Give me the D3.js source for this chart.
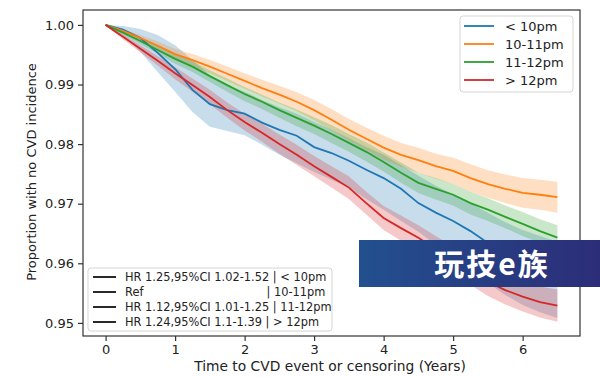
<!DOCTYPE html>
<html>
<head>
<meta charset="utf-8">
<script src="https://cdn.jsdelivr.net/npm/d3@7"></script>
<style>
    body { margin: 0; background: #fff; }
    text { font-family: "DejaVu Sans", sans-serif; }
</style>
</head>
<body>
<div id="chart"></div>
<script>
// follow-up time (years)
const years = [0, 0.25, 0.5, 0.75, 1, 1.25, 1.5, 1.75, 2, 2.25, 2.5, 2.75, 3, 3.25, 3.5,
    3.75, 4, 4.25, 4.5, 4.75, 5, 5.25, 5.5, 5.75, 6, 6.25, 6.5];

const groups = ["< 10pm", "10-11pm", "11-12pm", "> 12pm"];

// survival estimates + 95% CI per bedtime group
const before10 = [1.0000, 0.9992, 0.9978, 0.9953, 0.9926, 0.9891, 0.9867, 0.9857, 0.9851, 0.9836, 0.9824, 0.9814, 0.9795, 0.9785,
    0.9772, 0.9757, 0.9743, 0.9725, 0.9701, 0.9685, 0.9671, 0.9654, 0.9634, 0.9619, 0.9606, 0.9592, 0.9582];
const before10Hi = [1.0000, 0.9998, 0.9993, 0.9983, 0.9966, 0.9941, 0.9916, 0.9899, 0.9888, 0.9874, 0.9862, 0.9851, 0.9837, 0.9824,
    0.9810, 0.9795, 0.9782, 0.9765, 0.9747, 0.9730, 0.9716, 0.9701, 0.9685, 0.9669, 0.9656, 0.9646, 0.9636];
const before10Lo = [1.0000, 0.9982, 0.9955, 0.9921, 0.9888, 0.9854, 0.9829, 0.9822, 0.9815, 0.9799, 0.9782, 0.9768, 0.9753, 0.9740,
    0.9727, 0.9708, 0.9690, 0.9671, 0.9653, 0.9631, 0.9609, 0.9589, 0.9567, 0.9547, 0.9530, 0.9518, 0.9508];

const tenTo11 = [1.0000, 0.9990, 0.9978, 0.9965, 0.9951, 0.9941, 0.9930, 0.9918, 0.9906, 0.9894, 0.9883, 0.9871, 0.9857, 0.9841,
    0.9824, 0.9809, 0.9794, 0.9782, 0.9773, 0.9763, 0.9755, 0.9743, 0.9733, 0.9725, 0.9718, 0.9715, 0.9711];
const tenTo11Hi = [1.0000, 0.9993, 0.9983, 0.9972, 0.9960, 0.9951, 0.9941, 0.9930, 0.9919, 0.9908, 0.9898, 0.9887, 0.9874, 0.9859,
    0.9842, 0.9828, 0.9814, 0.9802, 0.9794, 0.9784, 0.9777, 0.9766, 0.9756, 0.9749, 0.9743, 0.9740, 0.9737];
const tenTo11Lo = [1.0000, 0.9987, 0.9973, 0.9958, 0.9942, 0.9931, 0.9919, 0.9906, 0.9893, 0.9880, 0.9868, 0.9855, 0.9840, 0.9823,
    0.9806, 0.9790, 0.9774, 0.9762, 0.9752, 0.9742, 0.9733, 0.9720, 0.9710, 0.9701, 0.9693, 0.9690, 0.9685];

const elevenTo12 = [1.0000, 0.9987, 0.9973, 0.9958, 0.9943, 0.9930, 0.9914, 0.9899, 0.9884, 0.9871, 0.9857, 0.9844, 0.9831, 0.9817,
    0.9802, 0.9787, 0.9770, 0.9752, 0.9735, 0.9725, 0.9715, 0.9701, 0.9690, 0.9678, 0.9666, 0.9654, 0.9643];
const elevenTo12Hi = [1.0000, 0.9990, 0.9978, 0.9964, 0.9951, 0.9939, 0.9924, 0.9910, 0.9896, 0.9883, 0.9870, 0.9858, 0.9845, 0.9832,
    0.9817, 0.9803, 0.9786, 0.9769, 0.9752, 0.9743, 0.9733, 0.9720, 0.9709, 0.9697, 0.9686, 0.9674, 0.9664];
const elevenTo12Lo = [1.0000, 0.9984, 0.9968, 0.9952, 0.9935, 0.9921, 0.9904, 0.9888, 0.9872, 0.9859, 0.9844, 0.9830, 0.9817, 0.9802,
    0.9787, 0.9771, 0.9754, 0.9735, 0.9718, 0.9707, 0.9697, 0.9682, 0.9671, 0.9659, 0.9646, 0.9634, 0.9622];

const after12 = [1.0000, 0.9980, 0.9960, 0.9940, 0.9919, 0.9899, 0.9879, 0.9857, 0.9837, 0.9819, 0.9800, 0.9782, 0.9763, 0.9745,
    0.9727, 0.9701, 0.9676, 0.9659, 0.9643, 0.9624, 0.9606, 0.9587, 0.9569, 0.9555, 0.9544, 0.9535, 0.9529];
const after12Hi = [1.0000, 0.9984, 0.9966, 0.9948, 0.9929, 0.9910, 0.9891, 0.9870, 0.9851, 0.9834, 0.9816, 0.9799, 0.9780, 0.9763,
    0.9746, 0.9720, 0.9696, 0.9680, 0.9664, 0.9646, 0.9628, 0.9610, 0.9593, 0.9579, 0.9569, 0.9561, 0.9556];
const after12Lo = [1.0000, 0.9976, 0.9954, 0.9932, 0.9909, 0.9888, 0.9867, 0.9844, 0.9823, 0.9804, 0.9784, 0.9765, 0.9746, 0.9727,
    0.9708, 0.9682, 0.9656, 0.9638, 0.9622, 0.9602, 0.9584, 0.9564, 0.9545, 0.9531, 0.9519, 0.9509, 0.9502];

const hrLabels = [
    "HR 1.25,95%CI 1.02-1.52 | < 10pm",
    "Ref                                  | 10-11pm",
    "HR 1.12,95%CI 1.01-1.25 | 11-12pm",
    "HR 1.24,95%CI 1.1-1.39 | > 12pm"
];

const xTicks = [0, 1, 2, 3, 4, 5, 6];
const yTicks = [0.95, 0.96, 0.97, 0.98, 0.99, 1.00];

const colors = ["#1f77b4", "#ff7f0e", "#2ca02c", "#d62728"];

const series = [
    {name: groups[0], est: before10, lo: before10Lo, hi: before10Hi},
    {name: groups[1], est: tenTo11, lo: tenTo11Lo, hi: tenTo11Hi},
    {name: groups[2], est: elevenTo12, lo: elevenTo12Lo, hi: elevenTo12Hi},
    {name: groups[3], est: after12, lo: after12Lo, hi: after12Hi}
];

const width = 600, height = 377;
const plot = {left: 83, top: 10, right: 580, bottom: 336};

const svg = d3.select("#chart").append("svg")
    .attr("width", width)
    .attr("height", height);

const x = d3.scaleLinear().domain([-0.325, 6.825]).range([plot.left, plot.right]);
const y = d3.scaleLinear().domain([0.9478, 1.0025]).range([plot.bottom, plot.top]);

svg.append("clipPath").attr("id", "clip")
    .append("rect")
    .attr("x", plot.left).attr("y", plot.top)
    .attr("width", plot.right - plot.left)
    .attr("height", plot.bottom - plot.top);

const body = svg.append("g").attr("clip-path", "url(#clip)");

// CI bands first, lines on top (matplotlib zorder)
series.forEach((s, i) => {
    const area = d3.area()
        .x((d, j) => x(years[j]))
        .y0((d, j) => y(s.lo[j]))
        .y1((d, j) => y(s.hi[j]));
    body.append("path")
        .datum(s.est)
        .attr("d", area)
        .attr("fill", colors[i])
        .attr("fill-opacity", 0.25);
});

series.forEach((s, i) => {
    const line = d3.line()
        .x((d, j) => x(years[j]))
        .y(d => y(d));
    body.append("path")
        .datum(s.est)
        .attr("d", line)
        .attr("fill", "none")
        .attr("stroke", colors[i])
        .attr("stroke-width", 1.8);
});

// axes
const xAxis = svg.append("g")
    .attr("transform", `translate(0,${plot.bottom})`)
    .call(d3.axisBottom(x).tickValues(xTicks).tickFormat(d3.format("d")).tickSize(5).tickPadding(4));
const yAxis = svg.append("g")
    .attr("transform", `translate(${plot.left},0)`)
    .call(d3.axisLeft(y).tickValues(yTicks).tickFormat(d3.format(".2f")).tickSize(5).tickPadding(4));

[xAxis, yAxis].forEach(a => {
    a.select(".domain").remove();
    a.selectAll("line").attr("stroke", "#333").attr("stroke-width", 1.2);
    a.selectAll("text").attr("fill", "#222").style("font-size", "13px").style("font-family", "DejaVu Sans");
});

svg.append("rect")
    .attr("x", plot.left).attr("y", plot.top)
    .attr("width", plot.right - plot.left)
    .attr("height", plot.bottom - plot.top)
    .attr("fill", "none")
    .attr("stroke", "#333")
    .attr("stroke-width", 1.2);

svg.append("text")
    .attr("x", 330)
    .attr("y", 371)
    .attr("text-anchor", "middle")
    .attr("fill", "#222")
    .style("font-size", "13.8px")
    .text("Time to CVD event or censoring (Years)");

svg.append("text")
    .attr("transform", `translate(36,172) rotate(-90)`)
    .attr("text-anchor", "middle")
    .attr("fill", "#222")
    .style("font-size", "13px")
    .text("Proportion with no CVD incidence");

// group legend (top right)
const leg1 = svg.append("g");
leg1.append("rect")
    .attr("x", 460).attr("y", 16).attr("width", 113).attr("height", 76)
    .attr("rx", 3)
    .attr("fill", "#fff").attr("fill-opacity", 0.8)
    .attr("stroke", "#d5d5d5");
groups.forEach((g, i) => {
    const cy = 26 + i * 18;
    leg1.append("line")
        .attr("x1", 464).attr("x2", 494).attr("y1", cy).attr("y2", cy)
        .attr("stroke", colors[i]).attr("stroke-width", 1.8);
    leg1.append("text")
        .attr("x", 505).attr("y", cy).attr("dy", "0.35em")
        .attr("fill", "#222")
        .style("font-size", "13px")
        .text(g);
});

// hazard ratio legend (bottom left)
const leg2 = svg.append("g");
leg2.append("rect")
    .attr("x", 88).attr("y", 268).attr("width", 244).attr("height", 63)
    .attr("rx", 3)
    .attr("fill", "#fff").attr("fill-opacity", 0.8)
    .attr("stroke", "#d5d5d5");
hrLabels.forEach((t, i) => {
    const cy = 277 + i * 15;
    leg2.append("line")
        .attr("x1", 93).attr("x2", 116).attr("y1", cy).attr("y2", cy)
        .attr("stroke", "#111").attr("stroke-width", 1.8);
    leg2.append("text")
        .attr("x", 125).attr("y", cy).attr("dy", "0.35em")
        .attr("fill", "#222")
        .style("font-size", "11.4px")
        .style("white-space", "pre")
        .text(t);
});

// site watermark banner
const grad = svg.append("defs").append("linearGradient")
    .attr("id", "wm").attr("x1", "0").attr("x2", "1").attr("y1", "0").attr("y2", "0");
grad.append("stop").attr("offset", "0").attr("stop-color", "#22508f");
grad.append("stop").attr("offset", "1").attr("stop-color", "#2c2d78");
svg.append("rect")
    .attr("x", 359).attr("y", 240).attr("width", 241).attr("height", 47)
    .attr("fill", "url(#wm)");
svg.append("text")
    .attr("x", 492).attr("y", 264).attr("dy", "0.35em")
    .attr("text-anchor", "middle")
    .attr("fill", "#fff")
    .style("font-family", "Noto Sans CJK SC")
    .style("font-weight", "bold")
    .style("font-size", "30px")
    .style("letter-spacing", "2px")
    .text("玩技e族");
</script>
</body>
</html>
